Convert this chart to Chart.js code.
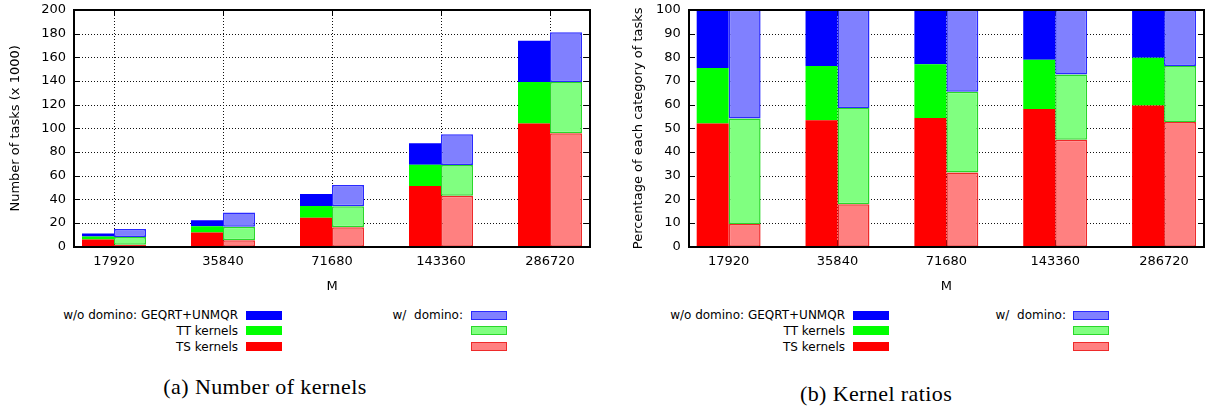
<!DOCTYPE html>
<html>
<head>
<meta charset="utf-8">
<script src="https://cdn.jsdelivr.net/npm/chart.js@4.4.1/dist/chart.umd.min.js"></script>
<style>
  html, body { margin: 0; padding: 0; background: #fff; }
  body { width: 1212px; height: 411px; position: relative; overflow: hidden; font-family: "DejaVu Sans", sans-serif; color: #000; }
  .panel { position: absolute; top: 0; height: 300px; }
  #panelA { left: 0; width: 600px; }
  #panelB { left: 620px; width: 592px; }
  .lg-text { position: absolute; height: 16px; line-height: 16px; font-size: 12px; white-space: pre; text-align: right; }
  .lg-swatch { position: absolute; width: 36px; height: 9px; box-sizing: border-box; }
  .caption { position: absolute; font-family: "Liberation Serif", "DejaVu Serif", serif; font-size: 22px; letter-spacing: 0.4px; white-space: nowrap; transform: translate(-50%, -50%); }
</style>
</head>
<body>
<div class="panel" id="panelA"><canvas id="countChart"></canvas></div>
<div class="panel" id="panelB"><canvas id="ratioChart"></canvas></div>
<div id="legends"></div>
<div class="caption" style="left:265px; top:387px;">(a) Number of kernels</div>
<div class="caption" style="left:876px; top:394px;">(b) Kernel ratios</div>

<script>
// Matrix sizes on the x axis
const categories = ['17920', '35840', '71680', '143360', '286720'];

// Number of tasks (x 1000) per kernel family, without domino
const tsCountNoDomino    = [6.0, 12.0, 24.5, 51.3, 104.0];
const ttCountNoDomino    = [2.6, 5.3, 9.9, 18.0, 35.2];
const geqrtCountNoDomino = [2.6, 5.0, 10.1, 18.1, 34.8];
// ... and with domino
const tsCountDomino      = [1.6, 5.4, 16.4, 43.1, 95.8];
const ttCountDomino      = [6.6, 11.5, 17.7, 25.9, 43.4];
const geqrtCountDomino   = [6.8, 11.9, 18.1, 26.0, 42.0];

// Share of each kernel family (%), without domino
const tsPctNoDomino    = [52.1, 53.4, 54.4, 58.2, 59.7];
const ttPctNoDomino    = [23.4, 22.9, 22.7, 20.8, 20.1];
const geqrtPctNoDomino = [24.5, 23.7, 22.9, 21.0, 20.2];
// ... and with domino
const tsPctDomino      = [9.6, 17.9, 31.4, 45.2, 52.7];
const ttPctDomino      = [44.6, 40.7, 34.1, 27.5, 23.6];
const geqrtPctDomino   = [45.8, 41.4, 34.5, 27.3, 23.7];

// Legend entries (top to bottom)
const legendNoDomino = ['w/o domino: GEQRT+UNMQR', 'TT kernels', 'TS kernels'];
const legendDomino   = ['w/  domino:', '', ''];

const dark  = { ts: '#ff0000', tt: '#00ff00', ge: '#0000ff' };
const light = { ts: '#ff8080', tt: '#80ff80', ge: '#8080ff' };
const lightEdge = { ts: '#ee2a2a', tt: '#2ad82a', ge: '#2a2aff' };

Chart.defaults.font.family = '"DejaVu Sans", sans-serif';
Chart.defaults.font.size = 13;
Chart.defaults.color = '#000';

const toPoints = arr => arr.map((v, i) => ({ x: i, y: v }));

function buildDatasets(ts, tt, ge, stack, isLight) {
  const fill = isLight ? light : dark;
  const edge = isLight ? lightEdge : dark;
  const bw = isLight ? 1.5 : 0;
  return [
    { label: 'TS kernels',  data: toPoints(ts), backgroundColor: fill.ts, borderColor: edge.ts, borderWidth: bw, stack },
    { label: 'TT kernels',  data: toPoints(tt), backgroundColor: fill.tt, borderColor: edge.tt, borderWidth: bw, stack },
    { label: 'GEQRT+UNMQR', data: toPoints(ge), backgroundColor: fill.ge, borderColor: edge.ge, borderWidth: bw, stack },
  ];
}

// Dotted grid, inward tick marks, frame and rotated y title (gnuplot look).
// Lines are painted as thin filled rectangles.
const framePlugin = {
  id: 'frame',
  beforeDatasetsDraw(chart) {
    const { ctx, chartArea: a, scales } = chart;
    const L = Math.round(a.left), R = Math.round(a.right);
    const T = Math.round(a.top), B = Math.round(a.bottom);
    const len = 6;
    ctx.save();
    // dotted grid
    ctx.fillStyle = '#111';
    scales.y.ticks.forEach(t => {
      const py = Math.round(scales.y.getPixelForValue(t.value));
      if (py <= T + 1 || py >= B - 1) return;
      for (let x = L + 2; x < R - 1; x += 3) ctx.fillRect(x, py, 1, 1);
    });
    scales.x.ticks.forEach(t => {
      const px = Math.round(scales.x.getPixelForValue(t.value));
      for (let y = T + 2; y < B - 1; y += 3) ctx.fillRect(px, y, 1, 1);
    });
    // inward tick marks on all four sides
    ctx.fillStyle = '#000';
    scales.x.ticks.forEach(t => {
      const px = Math.round(scales.x.getPixelForValue(t.value));
      ctx.fillRect(px, B - len, 1, len);
      ctx.fillRect(px, T, 1, len);
    });
    scales.y.ticks.forEach(t => {
      const py = Math.round(scales.y.getPixelForValue(t.value));
      ctx.fillRect(L, py, len, 1);
      ctx.fillRect(R - len, py, len, 1);
    });
    ctx.restore();
  },
  afterDatasetsDraw(chart, args, opts) {
    const { ctx, chartArea: a } = chart;
    const L = Math.round(a.left), R = Math.round(a.right);
    const T = Math.round(a.top), B = Math.round(a.bottom);
    ctx.save();
    ctx.fillStyle = '#000';
    ctx.fillRect(L - 1, T - 1, R - L + 2, 2);
    ctx.fillRect(L - 1, B - 1, R - L + 2, 2);
    ctx.fillRect(L - 1, T - 1, 2, B - T + 2);
    ctx.fillRect(R - 1, T - 1, 2, B - T + 2);
    ctx.restore();

    ctx.save();
    ctx.translate(opts.titleX, (a.top + a.bottom) / 2);
    ctx.rotate(-Math.PI / 2);
    ctx.font = '13px "DejaVu Sans", sans-serif';
    ctx.fillStyle = '#000';
    ctx.textAlign = 'center';
    ctx.textBaseline = 'middle';
    ctx.fillText(opts.text, 0, 0);
    ctx.restore();
  }
};

function makeChart(canvasId, datasets, yMax, yStep, yWidth, padRight, yTitle, titleX) {
  return new Chart(document.getElementById(canvasId), {
    type: 'bar',
    data: { datasets },
    plugins: [framePlugin],
    options: {
      responsive: true,
      maintainAspectRatio: false,
      animation: false,
      layout: { padding: { left: 0, right: padRight, top: 10, bottom: 0 } },
      categoryPercentage: 64 / 109,
      barPercentage: 1,
      borderSkipped: false,
      plugins: {
        legend: { display: false },
        tooltip: { enabled: false },
        frame: { text: yTitle, titleX }
      },
      scales: {
        x: {
          type: 'linear',
          stacked: true,
          offset: false,
          min: -0.367,
          max: categories.length - 1 + 0.367,
          grid: { display: false, offset: false, drawTicks: false },
          border: { display: false },
          ticks: {
            stepSize: 1,
            includeBounds: false,
            padding: 7,
            maxRotation: 0,
            autoSkip: false,
            callback: v => categories[v] !== undefined ? categories[v] : ''
          },
          title: { display: true, text: 'M', padding: { top: 0, bottom: 6 } },
          afterFit: s => { s.height = 53.3; s.paddingLeft = 0; s.paddingRight = 0; }
        },
        y: {
          stacked: true,
          min: 0,
          max: yMax,
          grid: { display: false, drawTicks: false },
          border: { display: false },
          ticks: { stepSize: yStep, padding: 8 },
          afterFit: s => { s.width = yWidth; s.paddingTop = 0; s.paddingBottom = 0; }
        }
      }
    }
  });
}

makeChart('countChart',
  [...buildDatasets(tsCountNoDomino, ttCountNoDomino, geqrtCountNoDomino, 'noDomino', false),
   ...buildDatasets(tsCountDomino, ttCountDomino, geqrtCountDomino, 'domino', true)],
  200, 20, 74, 10, 'Number of tasks (x 1000)', 16);

makeChart('ratioChart',
  [...buildDatasets(tsPctNoDomino, ttPctNoDomino, geqrtPctNoDomino, 'noDomino', false),
   ...buildDatasets(tsPctDomino, ttPctDomino, geqrtPctDomino, 'domino', true)],
  100, 10, 68.7, 8, 'Percentage of each category of tasks', 19);

// Legends under each panel
const rowCenters = [315, 330.7, 346.5];
const kinds = ['ge', 'tt', 'ts'];
const legendColumns = [
  { textRight: 238,  swatchLeft: 246,  labels: legendNoDomino, light: false },
  { textRight: 463,  swatchLeft: 471,  labels: legendDomino,   light: true },
  { textRight: 845,  swatchLeft: 853,  labels: legendNoDomino, light: false },
  { textRight: 1066, swatchLeft: 1073, labels: legendDomino,   light: true },
];
const host = document.getElementById('legends');
legendColumns.forEach(col => {
  col.labels.forEach((label, r) => {
    const cy = rowCenters[r];
    if (label) {
      const t = document.createElement('div');
      t.className = 'lg-text';
      t.textContent = label;
      t.style.right = (1212 - col.textRight) + 'px';
      t.style.top = (cy - 8) + 'px';
      host.appendChild(t);
    }
    const s = document.createElement('div');
    s.className = 'lg-swatch';
    s.style.left = col.swatchLeft + 'px';
    s.style.top = (cy - 4.5) + 'px';
    const k = kinds[r];
    if (col.light) {
      s.style.background = light[k];
      s.style.border = '1.5px solid ' + lightEdge[k];
    } else {
      s.style.background = dark[k];
    }
    host.appendChild(s);
  });
});
</script>
</body>
</html>
